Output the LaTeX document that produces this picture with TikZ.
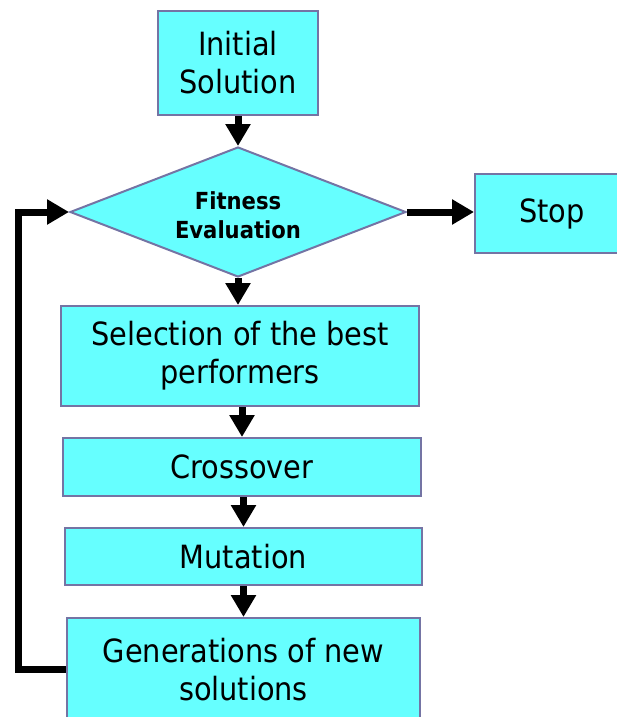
\documentclass[tikz,border=0pt]{standalone}
\usepackage{fontspec}
\setmainfont{DejaVu Sans Condensed}
\usetikzlibrary{shapes.geometric,arrows.meta}
\definecolor{boxfill}{HTML}{66FFFF}
\definecolor{boxline}{HTML}{7474A4}
\tikzset{
  x=1pt, y=-1pt,
  stepbox/.style={draw=boxline, line width=2pt, fill=boxfill, inner sep=0pt,
    font=\fontsize{32}{38}\selectfont, align=center, anchor=north west},
  flow/.style={line width=7pt, -{Triangle[width=24pt,length=22pt]}},
}
\begin{document}
\begin{tikzpicture}
\useasboundingbox (0,0) rectangle (617,717);

\node[stepbox, minimum width=160pt, minimum height=104pt] (init) at (157,10) {Initial\\Solution};
\node[draw=boxline, line width=2pt, fill=boxfill, shape=diamond, aspect=2.58,
  minimum width=336pt, minimum height=130pt, inner sep=0pt] (fit) at (238,212) {};
\node[align=center, inner sep=0pt, font=\fontsize{23.5}{29}\selectfont\bfseries]
  (fitlabel) at (238,215) {Fitness\\Evaluation};
\node[stepbox, minimum width=154pt, minimum height=79pt] (stop) at (474,173) {Stop};
\node[stepbox, minimum width=358pt, minimum height=100pt] (sel) at (60,305) {Selection of the best\\performers};
\node[stepbox, minimum width=358pt, minimum height=58pt] (cross) at (62,437) {Crossover};
\node[stepbox, minimum width=357pt, minimum height=57pt] (mut) at (64,527) {Mutation};
\node[stepbox, minimum width=353pt, minimum height=103pt] (gen) at (66,617) {Generations of new\\solutions};

\coordinate (loopbottom) at (18,669);
\coordinate (looptop) at (18,212);

\draw[flow] (init.south) -- (fit.north);
\draw[flow] (fit.east) -- (stop.west |- fit.east);
\draw[flow] (fit.south) -- (fit.south |- sel.north);
\draw[flow] (sel.south -| cross.north) -- (cross.north);
\draw[flow] (cross.south -| mut.north) -- (mut.north);
\draw[flow] (mut.south -| gen.north) -- (gen.north);
\draw[flow] (gen.west |- loopbottom) -- (loopbottom) -- (looptop) -- (fit.west);
\end{tikzpicture}
\end{document}
